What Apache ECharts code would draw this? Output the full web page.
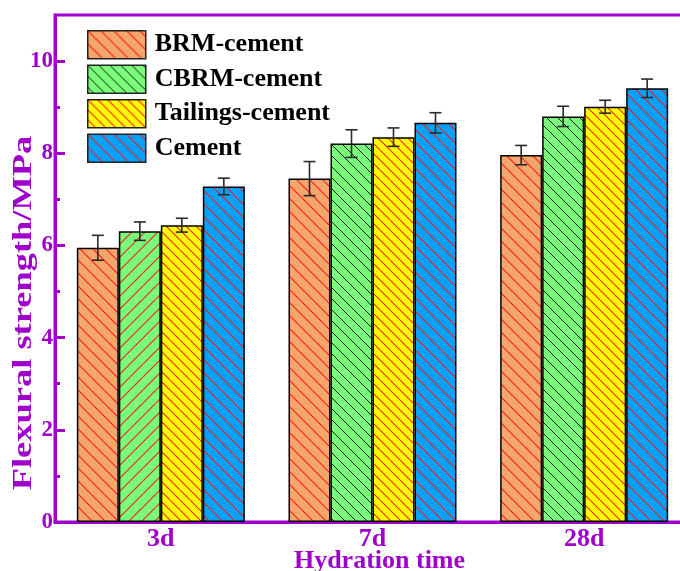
<!DOCTYPE html>
<html>
<head>
<meta charset="utf-8">
<script src="https://cdn.jsdelivr.net/npm/echarts@6/dist/echarts.min.js"></script>
<style>
  html, body { margin: 0; padding: 0; background: #ffffff; }
  #chart { width: 680px; height: 571px; }
</style>
</head>
<body>
<div id="chart"></div>
<script>
// Flexural strength of the four binders at each hydration age (MPa)
const categories = ['3d', '7d', '28d'];
const seriesNames = ['BRM-cement', 'CBRM-cement', 'Tailings-cement', 'Cement'];

const brmValues = [5.95, 7.45, 7.96];
const brmErrors = [0.27, 0.37, 0.21];
const cbrmValues = [6.31, 8.21, 8.80];
const cbrmErrors = [0.20, 0.30, 0.22];
const tailingsValues = [6.44, 8.35, 9.01];
const tailingsErrors = [0.15, 0.20, 0.14];
const cementValues = [7.28, 8.66, 9.41];
const cementErrors = [0.18, 0.22, 0.20];

const yMajorTicks = [0, 2, 4, 6, 8, 10];
const yMinorTicks = [1, 3, 5, 7, 9];

const PURPLE = '#a000cc';
const FONT = '"Liberation Serif", "Times New Roman", serif';
const BAR_WIDTH = 42;

// Diagonal hatch fill drawn on a small repeating canvas tile
function hatch(bg, line, step, dir, lw) {
  const c = document.createElement('canvas');
  c.width = step; c.height = step;
  const g = c.getContext('2d');
  g.fillStyle = bg;
  g.fillRect(0, 0, step, step);
  g.strokeStyle = line;
  g.lineWidth = lw;
  g.beginPath();
  [-step, 0, step].forEach(function (o) {
    if (dir === '\\') { g.moveTo(o, 0); g.lineTo(o + step, step); }
    else { g.moveTo(o + step, 0); g.lineTo(o, step); }
  });
  g.stroke();
  return { image: c, repeat: 'repeat' };
}

const fills = [
  hatch('#f5a66a', '#ff1a1a', 13, '\\', 1.1),
  hatch('#7aff7a', '#111111', 11, '\\', 1.0),
  hatch('#ffff00', '#ff1a1a', 10, '\\', 1.1),
  hatch('#00a2ff', '#ff1a1a', 13, '\\', 1.1)
];
const cbrmEarlyFill = hatch('#7aff7a', '#ff1a1a', 13, '/', 1.1);

const valueSets = [brmValues, cbrmValues, tailingsValues, cementValues];
const errorSets = [brmErrors, cbrmErrors, tailingsErrors, cementErrors];

const barSeries = seriesNames.map(function (name, k) {
  return {
    name: name,
    type: 'bar',
    barWidth: BAR_WIDTH,
    barGap: '0%',
    itemStyle: { color: fills[k], borderColor: '#000', borderWidth: 1.5 },
    data: valueSets[k].map(function (v, i) {
      if (k === 1 && i === 0) {
        return { value: v, itemStyle: { color: cbrmEarlyFill } };
      }
      return v;
    }),
    z: 2
  };
});

const errorSeries = seriesNames.map(function (name, k) {
  return {
    name: name + ' error',
    type: 'custom',
    z: 5,
    data: valueSets[k].map(function (v, i) { return [i, v, errorSets[k][i]]; }),
    encode: { x: 0, y: 1 },
    renderItem: function (params, api) {
      const idx = api.value(0);
      const v = api.value(1);
      const e = api.value(2);
      const off = (k - 1.5) * BAR_WIDTH;
      const hi = api.coord([idx, v + e]);
      const lo = api.coord([idx, v - e]);
      const x = hi[0] + off;
      const cap = 6;
      const st = { stroke: '#2a2a2a', lineWidth: 1.6 };
      return {
        type: 'group',
        children: [
          { type: 'line', shape: { x1: x, y1: hi[1], x2: x, y2: lo[1] }, style: st },
          { type: 'line', shape: { x1: x - cap, y1: hi[1], x2: x + cap, y2: hi[1] }, style: st },
          { type: 'line', shape: { x1: x - cap, y1: lo[1], x2: x + cap, y2: lo[1] }, style: st }
        ]
      };
    }
  };
});

const chart = echarts.init(document.getElementById('chart'), null, { renderer: 'canvas' });
chart.setOption({
  animation: false,
  backgroundColor: '#ffffff',
  grid: {
    left: 55, top: 15, bottom: 49, right: -10,
    outerBoundsMode: 'none',
    containLabel: false,
    show: true, borderColor: PURPLE, borderWidth: 3
  },
  legend: {
    data: seriesNames,
    orient: 'vertical',
    left: 82, top: 25,
    itemWidth: 58, itemHeight: 28, itemGap: 5,
    icon: 'rect',
    itemStyle: { borderColor: '#222', borderWidth: 1.5 },
    textStyle: { fontFamily: FONT, fontWeight: 'bold', fontSize: 26, color: '#000', padding: [0, 0, 0, 4] }
  },
  xAxis: {
    type: 'category',
    data: categories,
    name: 'Hydration time',
    nameLocation: 'middle',
    nameGap: 26,
    nameMoveOverlap: false,
    nameTextStyle: { fontFamily: FONT, fontWeight: 'bold', fontSize: 26, color: PURPLE, padding: [0, 0, 0, 14] },
    axisLine: { lineStyle: { color: PURPLE, width: 3 } },
    axisTick: { alignWithLabel: true, inside: true, length: 8, lineStyle: { color: PURPLE, width: 3 } },
    axisLabel: { fontFamily: FONT, fontWeight: 'bold', fontSize: 26, color: PURPLE, margin: 4 },
    splitLine: { show: false }
  },
  yAxis: [
    {
      type: 'value', min: 0, max: 11,
      axisLine: { show: true, lineStyle: { color: PURPLE, width: 3 } },
      axisTick: { show: true, inside: true, length: 10, lineStyle: { color: PURPLE, width: 3 }, customValues: yMajorTicks },
      axisLabel: { fontFamily: FONT, fontWeight: 'bold', fontSize: 23, color: PURPLE, margin: 2, customValues: yMajorTicks },
      splitLine: { show: false }
    },
    {
      type: 'value', min: 0, max: 11, position: 'left',
      axisLine: { show: false },
      axisTick: { show: true, inside: true, length: 5, lineStyle: { color: PURPLE, width: 3 }, customValues: yMinorTicks },
      axisLabel: { show: false },
      splitLine: { show: false }
    }
  ],
  graphic: [
    {
      type: 'text',
      x: 24, y: 313,
      rotation: Math.PI / 2,
      scaleX: 1.35,
      style: {
        text: 'Flexural strength/MPa',
        font: 'bold 27px ' + FONT,
        fill: PURPLE,
        align: 'center',
        verticalAlign: 'middle'
      }
    }
  ],
  series: barSeries.concat(errorSeries)
});
</script>
</body>
</html>
